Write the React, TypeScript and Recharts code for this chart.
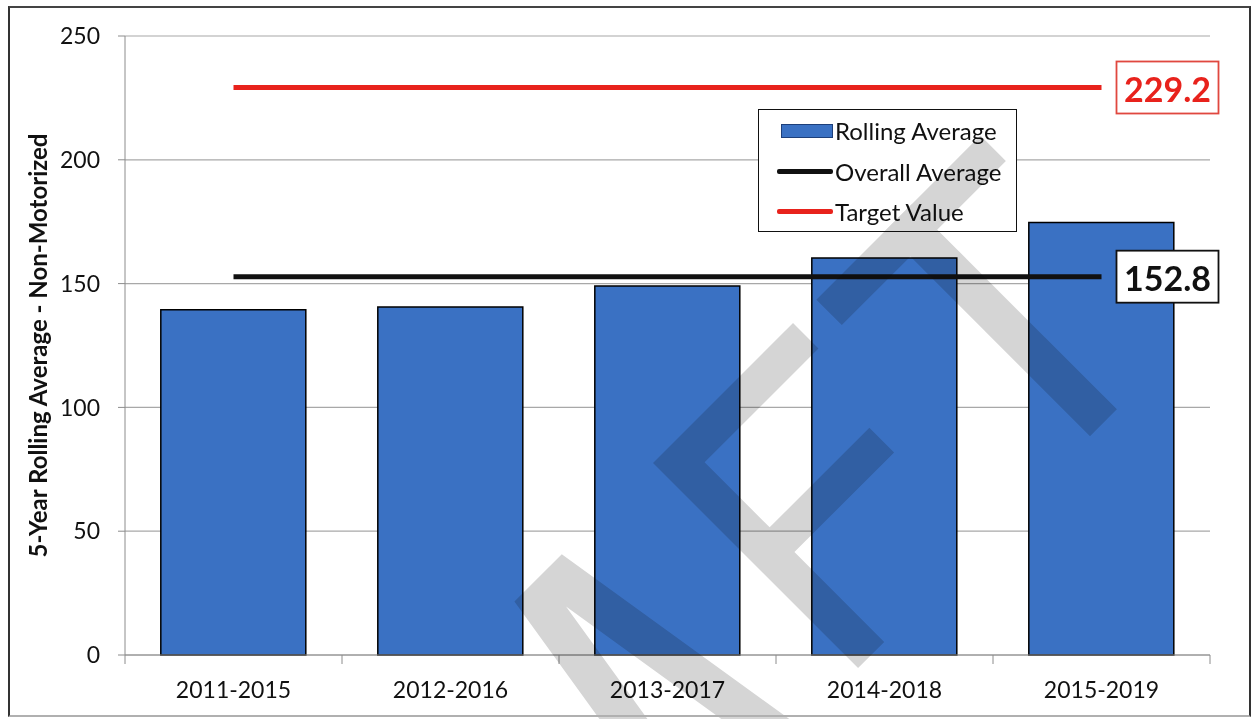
import React from "react";
import {
  ComposedChart, Bar, Line, XAxis, YAxis, CartesianGrid, Legend, LabelList, Label,
} from "recharts";

const categories = ["2011-2015", "2012-2016", "2013-2017", "2014-2018", "2015-2019"];
const rollingAverage = [139.4, 140.5, 149.0, 160.3, 174.7];
const overallAverage = [152.8, 152.8, 152.8, 152.8, 152.8];
const targetValue = [229.2, 229.2, 229.2, 229.2, 229.2];
const yTicks = [0, 50, 100, 150, 200, 250];
const seriesNames = ["Rolling Average", "Overall Average", "Target Value"];
const yLabel = "5-Year Rolling Average - Non-Motorized";

const BLUE = "#3a71c3";
const RED = "#e8221c";
const BLACK = "#111111";
const AXIS = "#8c8c8c";
const FONT = "Lato, 'Open Sans', sans-serif";

const data = categories.map((period, i) => ({
  period,
  rolling: rollingAverage[i],
  overall: overallAverage[i],
  target: targetValue[i],
}));

// "DRAFT" watermark pieces, in the letters' own rotated frame
const watermark = {
  x: 653,
  y: 463,
  angle: -45,
  polys: [
    "-196,0 -129,0 -82.6,290 -123,290 -163,40 -203,290 -242.4,290",
    "0,0 198,0 198,36 37,36 37,128 178,128 178,163 37,163 37,290 0,290",
    "231,0 463,0 463,36 231,36",
    "328,0 366,0 366,290 328,290",
  ],
};

function PeriodTick(props: any) {
  const { x, y, payload, index, width, visibleTicksCount } = props;
  const step = width && visibleTicksCount ? width / visibleTicksCount : 217;
  const half = step / 2;
  const axisY = y - 7 - 15;
  return (
    <g>
      {index === 0 && (
        <line x1={x - half} x2={x - half} y1={axisY} y2={axisY + 9} stroke={AXIS} />
      )}
      <line x1={x + half} x2={x + half} y1={axisY} y2={axisY + 9} stroke={AXIS} />
      <text x={x} y={y + 21} textAnchor="middle" fontSize={23} fill={BLACK} fontFamily={FONT}>
        {payload.value}
      </text>
    </g>
  );
}

const valueBox = (color: string, border: string) => (props: any) => {
  const { x, y, value, index } = props;
  if (index !== categories.length - 1) return null;
  return (
    <g>
      <rect x={x + 15} y={y - 26} width={102} height={52} fill="#fff" stroke={border} strokeWidth={1.8} />
      <text
        x={x + 66} y={y + 1} textAnchor="middle" dominantBaseline="central"
        fontSize={34} fontWeight={700} fill={color} fontFamily={FONT}
      >
        {Number(value).toFixed(1)}
      </text>
    </g>
  );
};

function LegendBox() {
  const swatch = (i: number) =>
    i === 0 ? (
      <div style={{ width: 52, height: 14, background: BLUE, border: "1.5px solid #1d3f7a", boxSizing: "border-box" }} />
    ) : (
      <div style={{ width: 56, height: 5, background: i === 1 ? BLACK : RED, borderRadius: 2 }} />
    );
  return (
    <div style={{
      width: 259, height: 123, boxSizing: "border-box", border: "1.5px solid #111",
      background: "#fff", fontFamily: FONT, fontSize: 24, color: BLACK,
    }}>
      {seriesNames.map((name, i) => (
        <div key={name} style={{ height: 41, display: "flex", alignItems: "center", marginTop: i === 0 ? 0 : -0.5 }}>
          <div style={{ width: 74, display: "flex", justifyContent: "flex-end", paddingRight: 2 }}>{swatch(i)}</div>
          <span>{name}</span>
        </div>
      ))}
    </div>
  );
}

export default function App() {
  return (
    <div style={{ position: "relative", width: 1253, height: 719, background: "#fff", fontFamily: FONT }}>
      <style>{"body{margin:0}"}</style>
      <ComposedChart
        width={1253} height={719} data={data}
        margin={{ top: 36, right: 43, bottom: 0, left: 0 }}
        barCategoryGap="16.5%"
      >
        <CartesianGrid vertical={false} stroke="#a8a8a8" strokeWidth={1.2} />
        <XAxis
          dataKey="period" height={64} stroke={AXIS} tickLine={false}
          tickSize={7} tickMargin={15} tick={<PeriodTick />} interval={0}
        />
        <YAxis
          width={125} domain={[0, 250]} ticks={yTicks} stroke={AXIS}
          tickSize={7} tickMargin={18}
          tick={{ fontSize: 23, fill: BLACK, fontFamily: FONT }}
        >
          <Label
            content={(p: any) => {
              const vb = p.viewBox || { y: 36, height: 619 };
              const cy = vb.y + vb.height / 2;
              return (
                <text
                  x={37} y={cy} transform={`rotate(-90 37 ${cy})`} textAnchor="middle"
                  dominantBaseline="central" fontSize={24} fontWeight={700} fill={BLACK} fontFamily={FONT}
                >
                  {yLabel}
                </text>
              );
            }}
          />
        </YAxis>
        <Legend
          layout="vertical" align="center" verticalAlign="middle"
          wrapperStyle={{ left: 758, top: 109, width: 259, height: 123 }}
          content={() => <LegendBox />}
        />
        <Bar dataKey="rolling" name={seriesNames[0]} fill={BLUE} stroke="#000" strokeWidth={1.5} isAnimationActive={false} />
        <Line dataKey="overall" name={seriesNames[1]} stroke={BLACK} strokeWidth={5} dot={false} activeDot={false} isAnimationActive={false}>
          <LabelList dataKey="overall" content={valueBox(BLACK, "#111")} />
        </Line>
        <Line dataKey="target" name={seriesNames[2]} stroke={RED} strokeWidth={5} dot={false} activeDot={false} isAnimationActive={false}>
          <LabelList dataKey="target" content={valueBox(RED, "#e0483f")} />
        </Line>
      </ComposedChart>
      <svg
        width={1253} height={719}
        style={{ position: "absolute", left: 0, top: 0, pointerEvents: "none", mixBlendMode: "multiply" }}
      >
        <g transform={`translate(${watermark.x} ${watermark.y}) rotate(${watermark.angle})`} fill="#d5d5d5">
          {watermark.polys.map((pts, i) => <polygon key={i} points={pts} />)}
        </g>
      </svg>
      <div style={{
        position: "absolute", left: 8, top: 6, width: 1243, height: 711, boxSizing: "border-box",
        borderTop: "2px solid #444", borderLeft: "2px solid #333", borderRight: "2px solid #333",
        borderBottom: "2px solid #b0b0b0", pointerEvents: "none",
      }} />
    </div>
  );
}
